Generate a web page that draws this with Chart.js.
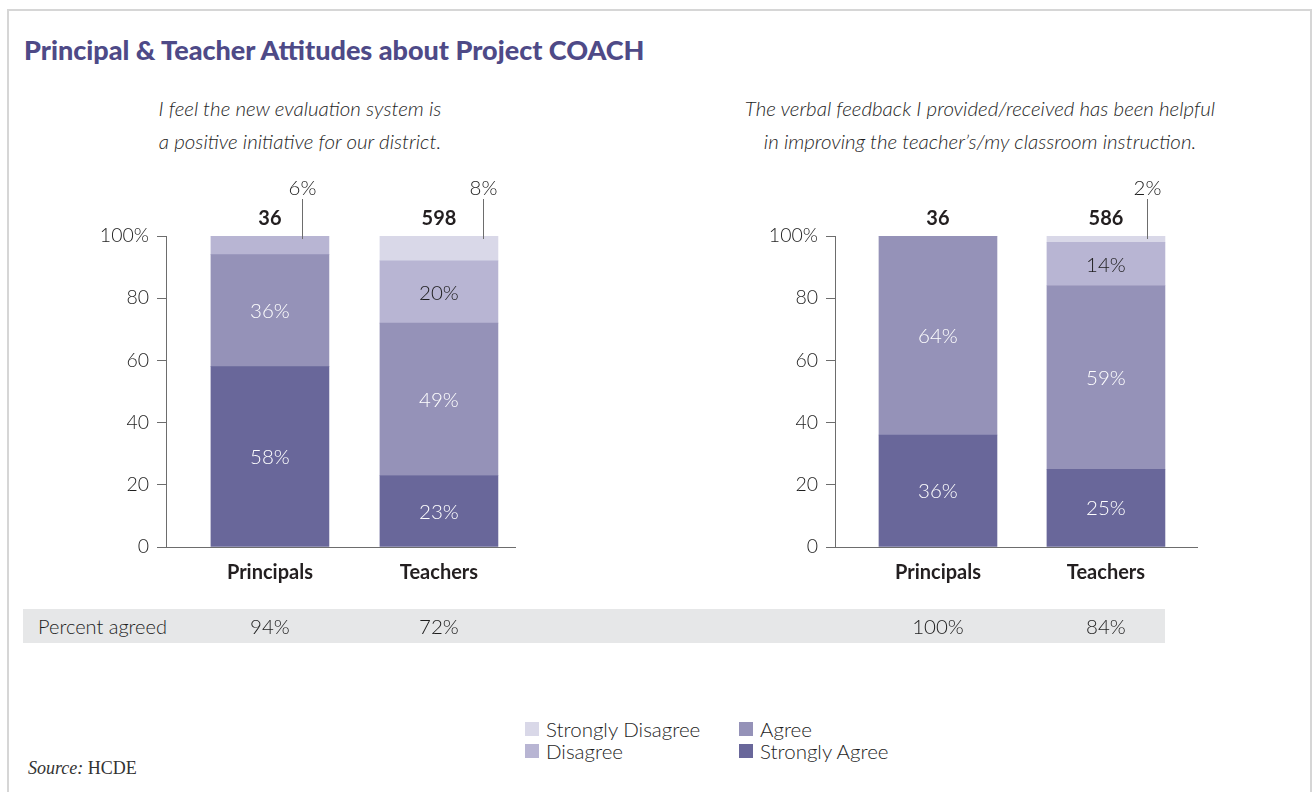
<!DOCTYPE html>
<html>
<head>
<meta charset="utf-8">
<script src="https://cdn.jsdelivr.net/npm/chart.js@4.4.1/dist/chart.umd.min.js"></script>
<style>
  body { margin: 0; background: #fff; font-family: Lato, sans-serif; color: #222; }
  .frame { position: absolute; left: 7px; top: 9px; width: 1301px; height: 900px; border: 2px solid #d6d6d6; }
  .title { position: absolute; left: 24px; top: 35px; font-size: 27px; line-height: 30px; font-weight: 900; color: #4e4a87; white-space: nowrap; }
  .sub { position: absolute; top: 92px; font-size: 20.5px; line-height: 33px; font-style: italic; font-weight: 300; color: #1e1e1e; text-align: center; white-space: nowrap; }
  .band { position: absolute; left: 23px; top: 609px; width: 1142px; height: 34px; background: #e6e7e8; }
  .rowlabel { position: absolute; left: 38px; top: 609px; line-height: 34px; font-size: 20px; font-weight: 300; color: #1e1e1e; }
  canvas { position: absolute; }
  #legend { position: absolute; left: 525px; top: 718px; display: grid; grid-template-rows: 22px 22px; grid-auto-flow: column; grid-template-columns: 214px 200px; }
  .item { display: flex; align-items: center; font-size: 20.5px; font-weight: 300; color: #1e1e1e; white-space: nowrap; }
  .sw { width: 14px; height: 14px; margin-right: 7px; }
  .source { position: absolute; left: 28px; top: 758px; font-family: "Liberation Serif", serif; font-size: 18px; color: #333; }
</style>
</head>
<body>
<div class="frame"></div>
<div class="title">Principal &amp; Teacher Attitudes about Project COACH</div>
<div class="sub" style="left:150px; width:300px;">I feel the new evaluation system is<br>a positive initiative for our district.</div>
<div class="sub" style="left:730px; width:500px;">The verbal feedback I provided/received has been helpful<br>in improving the teacher’s/my classroom instruction.</div>
<div class="band"></div>
<div class="rowlabel">Percent agreed</div>
<canvas id="evalChart" width="560" height="500" style="left:0; top:150px;"></canvas>
<canvas id="feedbackChart" width="600" height="500" style="left:660px; top:150px;"></canvas>
<div id="legend"></div>
<div class="source"><i>Source:</i> HCDE</div>

<script>
const groups = ['Principals', 'Teachers'];
const levelNames = ['Strongly Agree', 'Agree', 'Disagree', 'Strongly Disagree'];
const levelColors = ['#69679a', '#9592b8', '#b8b5d3', '#d9d8e8'];
const labelColors = ['#ffffff', '#ffffff', '#1e1e1e', '#1e1e1e'];
const yTicks = [0, 20, 40, 60, 80, 100];

// "I feel the new evaluation system is a positive initiative..."
const evalStronglyAgree = [58, 23];
const evalAgree = [36, 49];
const evalDisagree = [6, 20];
const evalStronglyDisagree = [0, 8];
const evalCounts = [36, 598];
const evalAgreed = [94, 72];

// "The verbal feedback I provided/received has been helpful..."
const feedbackStronglyAgree = [36, 25];
const feedbackAgree = [64, 59];
const feedbackDisagree = [0, 14];
const feedbackStronglyDisagree = [0, 2];
const feedbackCounts = [36, 586];
const feedbackAgreed = [100, 84];

const textFont = '300 20.5px Lato';
const boldFont = 'bold 20px Lato';

// segment labels, counts above bars, callouts for thin segments, percent agreed row
const annotPlugin = {
    id: 'annot',
    afterDatasetsDraw(chart, args, opts) {
        const c = chart.ctx;
        const xs = chart.scales.x;
        const ys = chart.scales.y;
        c.save();
        c.textAlign = 'center';
        c.textBaseline = 'middle';
        chart.data.datasets.forEach(function (ds, k) {
            chart.getDatasetMeta(k).data.forEach(function (bar, i) {
                const v = ds.data[i].y;
                if (v >= 10) {
                    c.font = textFont;
                    c.fillStyle = labelColors[k];
                    c.fillText(v + '%', bar.x, (bar.y + bar.base) / 2 + 1);
                }
            });
        });
        groups.forEach(function (g, i) {
            const x = xs.getPixelForValue(i);
            const top = ys.getPixelForValue(100);
            c.font = boldFont;
            c.fillStyle = '#231f20';
            c.fillText(opts.counts[i], x, top - 17);

            for (let k = chart.data.datasets.length - 1; k >= 0; k--) {
                const v = chart.data.datasets[k].data[i].y;
                if (v > 0) {
                    if (v < 10) {
                        const bar = chart.getDatasetMeta(k).data[i];
                        const lx = Math.round(x + opts.calloutDx[i]) + 0.5;
                        c.strokeStyle = '#6d6d6d';
                        c.lineWidth = 1;
                        c.beginPath();
                        c.moveTo(lx, bar.y - 37);
                        c.lineTo(lx, bar.y + 3);
                        c.stroke();
                        c.font = textFont;
                        c.fillStyle = '#1e1e1e';
                        c.fillText(v + '%', lx, bar.y - 48);
                    }
                    break;
                }
            }

            c.font = textFont;
            c.fillStyle = '#1e1e1e';
            c.fillText(opts.agreed[i] + '%', x, ys.bottom + 80);
        });
        c.restore();
    }
};

function makeChart(id, series, counts, agreed, geo) {
    const ctx = document.getElementById(id).getContext('2d');
    return new Chart(ctx, {
        type: 'bar',
        data: {
            datasets: series.map(function (vals, k) {
                return {
                    label: levelNames[k],
                    data: vals.map(function (v, i) { return { x: i, y: v }; }),
                    backgroundColor: levelColors[k],
                    borderWidth: 0,
                    barThickness: 118
                };
            })
        },
        options: {
            responsive: false,
            animation: false,
            layout: { padding: { top: 86, right: geo.padRight, bottom: 63, left: 0 } },
            plugins: {
                legend: { display: false },
                tooltip: { enabled: false },
                annot: { counts: counts, agreed: agreed, calloutDx: geo.calloutDx }
            },
            scales: {
                x: {
                    type: 'linear',
                    stacked: true,
                    offset: false,
                    min: geo.xMin,
                    max: geo.xMax,
                    afterBuildTicks: function (s) { s.ticks = groups.map(function (g, i) { return { value: i }; }); },
                    afterFit: function (s) { s.height = 40; },
                    grid: { display: false, drawTicks: false, offset: false },
                    border: { color: '#6d6d6d', width: 1 },
                    ticks: {
                        callback: function (v) { return groups[v]; },
                        font: { family: 'Lato', size: 20, weight: 'bold' },
                        color: '#231f20',
                        padding: 14
                    }
                },
                y: {
                    stacked: true,
                    min: 0,
                    max: 100,
                    afterBuildTicks: function (s) { s.ticks = yTicks.map(function (v) { return { value: v }; }); },
                    afterFit: function (s) { s.width = geo.axisWidth; },
                    grid: { drawOnChartArea: false, tickLength: 9, color: '#6d6d6d', lineWidth: 1 },
                    border: { color: '#6d6d6d', width: 1 },
                    ticks: {
                        callback: function (v) { return v === 100 ? '100%' : v; },
                        font: { family: 'Lato', size: 19.5, weight: '300' },
                        color: '#1e1e1e',
                        padding: 8
                    }
                }
            }
        },
        plugins: [annotPlugin]
    });
}

makeChart('evalChart',
    [evalStronglyAgree, evalAgree, evalDisagree, evalStronglyDisagree],
    evalCounts, evalAgreed,
    { axisWidth: 166, padRight: 45, xMin: -0.615, xMax: 1.45, calloutDx: [32, 44] });

makeChart('feedbackChart',
    [feedbackStronglyAgree, feedbackAgree, feedbackDisagree, feedbackStronglyDisagree],
    feedbackCounts, feedbackAgreed,
    { axisWidth: 175, padRight: 63, xMin: -0.613, xMax: 1.542, calloutDx: [0, 41] });

// legend: two rows, filled column by column
const legend = document.getElementById('legend');
[3, 2, 1, 0].forEach(function (k) {
    const item = document.createElement('div');
    item.className = 'item';
    item.innerHTML = '<span class="sw" style="background:' + levelColors[k] + '"></span>' + levelNames[k];
    legend.appendChild(item);
});
</script>
</body>
</html>
